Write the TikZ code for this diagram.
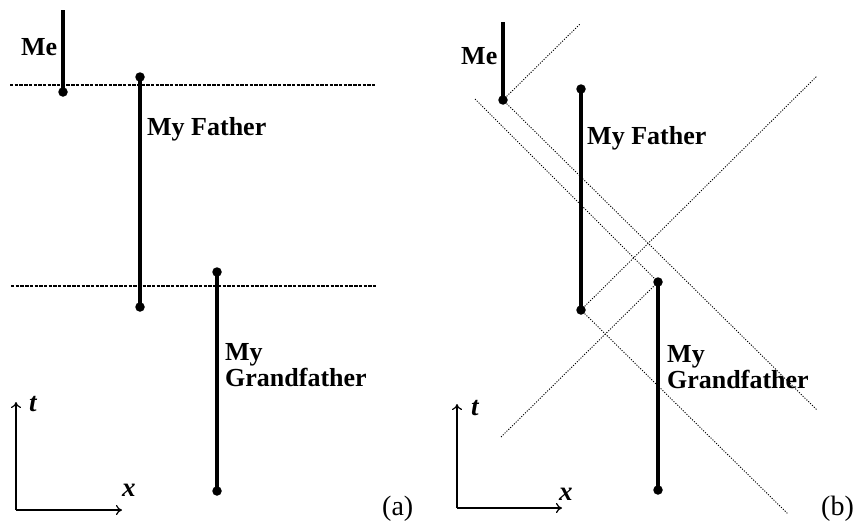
\documentclass[tikz,border=0pt]{standalone}
\usepackage{fontspec}
\setmainfont{Liberation Serif}
\usetikzlibrary{arrows.meta}
\begin{document}
\begin{tikzpicture}[x=1pt,y=-1pt,
  world/.style={line width=3.3pt},
  event/.style={circle,fill=black,inner sep=0pt,minimum size=9.5pt},
  simul/.style={line width=1.8pt,dash pattern=on 3.4pt off 1.3pt},
  cone/.style={line width=0.9pt,dash pattern=on 1.1pt off 1.5pt},
  axis/.style={line width=1.2pt,-{To[length=6pt,width=10pt]}},
  lbl/.style={anchor=base west,inner sep=0pt,font=\bfseries\fontsize{26}{27}\selectfont,align=left},
  axlbl/.style={anchor=base west,inner sep=0pt,font=\bfseries\itshape\fontsize{27}{28}\selectfont},
  panelcap/.style={anchor=base west,inner sep=0pt,font=\fontsize{28}{29}\selectfont}]
\useasboundingbox (0,0) rectangle (864,522);
% ---------- panel (a) ----------
\coordinate (aMeTop) at (63,10);
\node[event] (aMe) at (63,92) {};
\node[event] (aFaTop) at (140,77) {};
\node[event] (aFaBot) at (140,307) {};
\node[event] (aGfTop) at (217,272) {};
\node[event] (aGfBot) at (217,491) {};
\coordinate (aS1l) at (10,85);
\coordinate (aS1r) at (375,85);
\coordinate (aS2l) at (11,286);
\coordinate (aS2r) at (376,286);
\draw[simul] (aS1l) -- (aS1r);
\draw[simul] (aS2l) -- (aS2r);
\draw[world] (aMeTop) -- (aMe.center);
\draw[world] (aFaTop.center) -- (aFaBot.center);
\draw[world] (aGfTop.center) -- (aGfBot.center);
\node[lbl] (aMeL) at (21,55) {Me};
\node[lbl] (aFaL) at (147,135) {My Father};
\node[lbl] (aGfL1) at (225,360) {My};
\node[lbl] (aGfL2) at (225,386) {Grandfather};
\coordinate (aO) at (16,510);
\coordinate (aT) at (16,402);
\coordinate (aX) at (122,510);
\draw[axis] (aO) -- (aT);
\draw[axis] (aO) -- (aX);
\node[axlbl] (atL) at (29,411) {t};
\node[axlbl] (axL) at (122,496) {x};
\node[panelcap] (aCap) at (382,515) {(a)};
% ---------- panel (b) ----------
\coordinate (bMeTop) at (503,22);
\node[event] (bMe) at (503,100) {};
\node[event] (bFaTop) at (581,89) {};
\node[event] (bFaBot) at (581,310) {};
\node[event] (bGfTop) at (658,282) {};
\node[event] (bGfBot) at (658,490) {};
\coordinate (bF) at (580,24);
\coordinate (bA) at (475,99);
\coordinate (bB) at (817,410);
\coordinate (bC) at (817,76);
\coordinate (bD) at (788,514);
\coordinate (bE) at (501,437);
\draw[cone] (bMe.center) -- (bF);
\draw[cone] (bA) -- (bGfTop.center);
\draw[cone] (bMe.center) -- (bB);
\draw[cone] (bFaBot.center) -- (bC);
\draw[cone] (bFaBot.center) -- (bD);
\draw[cone] (bE) -- (bGfTop.center);
\draw[world] (bMeTop) -- (bMe.center);
\draw[world] (bFaTop.center) -- (bFaBot.center);
\draw[world] (bGfTop.center) -- (bGfBot.center);
\node[lbl] (bMeL) at (461,64) {Me};
\node[lbl] (bFaL) at (587,144) {My Father};
\node[lbl] (bGfL1) at (667,362) {My};
\node[lbl] (bGfL2) at (667,388) {Grandfather};
\coordinate (bO) at (457,508);
\coordinate (bT) at (457,404);
\coordinate (bX) at (562,508);
\draw[axis] (bO) -- (bT);
\draw[axis] (bO) -- (bX);
\node[axlbl] (btL) at (471,415) {t};
\node[axlbl] (bxL) at (559,500) {x};
\node[panelcap] (bCap) at (821,515) {(b)};
\end{tikzpicture}
\end{document}
